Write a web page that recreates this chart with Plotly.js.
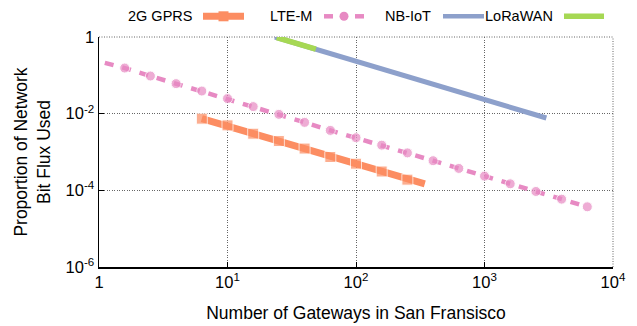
<!DOCTYPE html>
<html>
<head>
<meta charset="utf-8">
<script src="https://cdn.plot.ly/plotly-3.0.1.min.js"></script>
<style>html,body{margin:0;padding:0;background:#fff;}#chart{width:637px;height:326px;}</style>
</head>
<body>
<div id="chart"></div>
<script>
// ---- data ----
const seriesNames = ["2G GPRS", "LTE-M", "NB-IoT", "LoRaWAN"];

const gprsX = [6.31, 10, 15.85, 25.1, 39.8, 63.1, 100, 158.5, 251, 343];
const gprsY = [0.0074, 0.00495, 0.0030, 0.00193, 0.00123, 0.00074, 0.000495, 0.00031, 0.00019, 0.000148];

const lteX = [1.11, 1.585, 2.512, 3.981, 6.31, 10, 15.85, 25.12, 39.81, 63.1, 100, 158.5, 251.2, 398.1, 631, 1000, 1585, 2512, 3981, 6310];
const lteY = [0.212, 0.155, 0.0959, 0.0607, 0.0389, 0.0247, 0.0153, 0.0096, 0.00593, 0.00366, 0.00236, 0.00151, 0.000948, 0.000593, 0.000373, 0.000235, 0.000148, 0.0000934, 0.0000589, 0.0000372];

const nbX = [23.4, 100, 1000, 3030];
const nbY = [1, 0.232, 0.023, 0.0077];

const loraX = [24.2, 48.7];
const loraY = [0.97, 0.48];

const xTickVals = [1, 10, 100, 1000, 10000];
const xTickText = ["1", "10<sup>1</sup>", "10<sup>2</sup>", "10<sup>3</sup>", "10<sup>4</sup>"];
const yTickVals = [1e-6, 1e-4, 1e-2, 1];
const yTickText = ["10<sup>-6</sup>", "10<sup>-4</sup>", "10<sup>-2</sup>", "1"];

// ---- styles ----
const C = {gprs: "#fc8d62", lte: "#e78ac3", nb: "#8da0cb", lora: "#a6d854"};
const FONT = "Liberation Sans, Arial, Helvetica, sans-serif";
const GRID = "#666";
const GRIDDASH = "1px,1.5px";

const traces = [
  {x: nbX, y: nbY, name: seriesNames[2], mode: "lines", line: {color: C.nb, width: 5}, showlegend: false},
  {x: loraX, y: loraY, name: seriesNames[3], mode: "lines", line: {color: C.lora, width: 5.5}, showlegend: false},
  {x: lteX, y: lteY, name: seriesNames[1], mode: "lines+markers",
   line: {color: C.lte, width: 4.5, dash: "9px,9px"},
   marker: {symbol: "circle", color: C.lte, size: lteX.map((_, i) => i === 0 ? 0 : 10)},
   showlegend: false},
  {x: gprsX, y: gprsY, name: seriesNames[0], mode: "lines+markers",
   line: {color: C.gprs, width: 7},
   marker: {symbol: "square", color: C.gprs, size: gprsX.map((_, i) => i === gprsX.length - 1 ? 0 : 11)},
   showlegend: false}
];

// custom legend: text left of the sample (paper coords over plot area 99..613 x 36.7..266.7)
const L = 99, W = 514, B = 266.7, H = 230;
const px = v => (v - L) / W;
const py = v => (B - v) / H;
const legY = 16;
const shapes = [];
const annotations = [];
const legend = [
  {name: seriesNames[0], textEnd: 194, s0: 203, s1: 244, color: C.gprs, kind: "gprs"},
  {name: seriesNames[1], textEnd: 314, s0: 324, s1: 364, color: C.lte, kind: "lte"},
  {name: seriesNames[2], textEnd: 433, s0: 443, s1: 484, color: C.nb, kind: "nb"},
  {name: seriesNames[3], textEnd: 555, s0: 564, s1: 604, color: C.lora, kind: "lora"}
];
legend.forEach(e => {
  annotations.push({xref: "paper", yref: "paper", x: px(e.textEnd), y: py(legY), xanchor: "right", yanchor: "middle",
    text: e.name, showarrow: false, font: {family: FONT, size: 14.5, color: "#000"}});
  if (e.kind === "lte") {
    shapes.push({type: "line", xref: "paper", yref: "paper", x0: px(e.s0), x1: px(e.s0 + 9), y0: py(legY), y1: py(legY), line: {color: e.color, width: 4.5}});
    shapes.push({type: "line", xref: "paper", yref: "paper", x0: px(e.s1 - 9), x1: px(e.s1), y0: py(legY), y1: py(legY), line: {color: e.color, width: 4.5}});
    const c = (e.s0 + e.s1) / 2;
    shapes.push({type: "circle", xref: "paper", yref: "paper", x0: px(c - 4.5), x1: px(c + 4.5), y0: py(legY + 4.5), y1: py(legY - 4.5), fillcolor: e.color, line: {width: 0}});
  } else {
    shapes.push({type: "line", xref: "paper", yref: "paper", x0: px(e.s0), x1: px(e.s1), y0: py(legY), y1: py(legY),
      line: {color: e.color, width: e.kind === "gprs" ? 7 : (e.kind === "lora" ? 5.5 : 4.5)}});
    if (e.kind === "gprs") {
      const c = (e.s0 + e.s1) / 2;
      shapes.push({type: "rect", xref: "paper", yref: "paper", x0: px(c - 5), x1: px(c + 5), y0: py(legY + 5), y1: py(legY - 5), fillcolor: e.color, line: {width: 0}});
    }
  }
});
// dotted top and right frame
shapes.push({type: "line", xref: "paper", yref: "paper", x0: 0, x1: 1, y0: 1, y1: 1, line: {color: GRID, width: 1, dash: GRIDDASH}, layer: "below"});
shapes.push({type: "line", xref: "paper", yref: "paper", x0: 1, x1: 1, y0: 0, y1: 1, line: {color: GRID, width: 1, dash: GRIDDASH}, layer: "below"});

const axisCommon = {
  type: "log", showline: true, linecolor: "#000", linewidth: 1.5, mirror: false,
  ticks: "inside", ticklen: 5, tickwidth: 1, tickcolor: "#000",
  showgrid: true, gridcolor: GRID, gridwidth: 1, griddash: GRIDDASH, zeroline: false,
  tickfont: {family: FONT, size: 16.5, color: "#000"}, automargin: false
};

const layout = {
  width: 637, height: 326,
  margin: {l: 99, r: 24, t: 37, b: 59, pad: 0},
  paper_bgcolor: "#fff", plot_bgcolor: "#fff",
  font: {family: FONT, color: "#000"},
  showlegend: false,
  xaxis: Object.assign({}, axisCommon, {
    range: [0, 4], tickmode: "array", tickvals: xTickVals, ticktext: xTickText,
    title: {text: "Number of Gateways in San Fransisco", font: {family: FONT, size: 17.5, color: "#000"}, standoff: 16}
  }),
  yaxis: Object.assign({}, axisCommon, {
    range: [-6, 0], tickmode: "array", tickvals: yTickVals, ticktext: yTickText,
    title: {text: "Proportion of Network<br>Bit Flux Used", font: {family: FONT, size: 17.5, color: "#000"}, standoff: 10}
  }),
  shapes: shapes,
  annotations: annotations
};

Plotly.newPlot("chart", traces, layout, {displayModeBar: false, staticPlot: true});
</script>
</body>
</html>
